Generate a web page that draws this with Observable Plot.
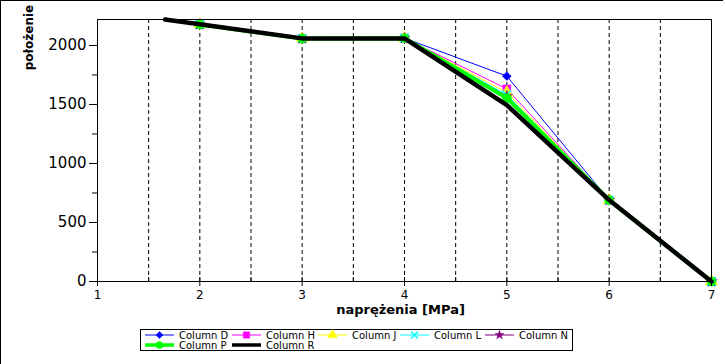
<!DOCTYPE html>
<html><head><meta charset="utf-8">
<script src="https://cdn.jsdelivr.net/npm/d3@7"></script>
<script src="https://cdn.jsdelivr.net/npm/@observablehq/plot@0.6"></script>
<style>html,body{margin:0;padding:0;background:#fff;} svg{display:block;}</style>
</head><body><div id="chart"></div>
<script>
// ---- data ----
const xStress  = [2, 3, 4, 5, 6, 7];
const xStressR = [1.66, 3, 4, 5, 6, 7];
const columnD = [2178, 2058, 2062, 1740, 690, 0];
const columnH = [2178, 2058, 2062, 1632, 690, 0];
const columnJ = [2178, 2058, 2062, 1602, 690, 0];
const columnL = [2178, 2058, 2062, 1582, 690, 0];
const columnN = [2178, 2058, 2062, 1570, 690, 0];
const columnP = [2178, 2058, 2062, 1555, 690, 0];
const columnR = [2220, 2060, 2060, 1495, 690, 0];
const seriesNames = ["Column D", "Column H", "Column J", "Column L", "Column N", "Column P", "Column R"];
const xTicks = [1, 2, 3, 4, 5, 6, 7];
const xGrid = [1.5, 2, 2.5, 3, 3.5, 4, 4.5, 5, 5.5, 6, 6.5];
const xMinorTicks = [1.5, 2.5, 3.5, 4.5, 5.5, 6.5];
const yTicks = [0, 500, 1000, 1500, 2000];
const yMinorTicks = [250, 750, 1250, 1750];
const xLabel = "naprężenia [MPa]";
const yLabel = "położenie";

// ---- styles ----
const styles = [
  {color: "#0000ff", symbol: "diamond2", r: 4,   width: 1},
  {color: "#ff00ff", symbol: "square",   r: 4.5, width: 1},
  {color: "#ffff00", symbol: "triangle", r: 4.5, width: 1},
  {color: "#00ffff", symbol: "times",    r: 4,   width: 1},
  {color: "#800080", symbol: "star",     r: 3.5, width: 1},
  {color: "#00ff00", symbol: "circle",   r: 4.5, width: 4},
  {color: "#000000", symbol: null,       r: 0,   width: 4.5}
];
const xsList = [xStress, xStress, xStress, xStress, xStress, xStress, xStressR];
const ysList = [columnD, columnH, columnJ, columnL, columnN, columnP, columnR];
const series = seriesNames.map((name, i) => ({
  name, rows: xsList[i].map((x, j) => ({x, y: ysList[i][j]})), ...styles[i]
}));

const FONT = "DejaVu Sans";
const W = 725, H = 364;
const mL = 97, mR = 14, mT = 19, mB = 83;
const innerH = H - mT - mB;

const seriesMarks = series.flatMap(s => {
  const m = [Plot.line(s.rows, {x: "x", y: "y", stroke: s.color, strokeWidth: s.width, strokeLinejoin: "round"})];
  if (s.symbol) {
    const stroked = s.symbol === "times";
    m.push(Plot.dot(s.rows, {x: "x", y: "y", symbol: s.symbol, r: s.r,
      fill: stroked ? "none" : s.color, stroke: s.color, strokeWidth: stroked ? 1.6 : 0.5}));
  }
  return m;
});

const chart = Plot.plot({
  width: W, height: H,
  marginLeft: mL, marginRight: mR, marginTop: mT, marginBottom: mB,
  style: {fontFamily: FONT, background: "white", color: "black"},
  x: {domain: [1, 7]},
  y: {domain: [0, 2220]},
  marks: [
    Plot.ruleX(xGrid, {stroke: "black", strokeDasharray: "4,3", strokeWidth: 1}),
    ...seriesMarks,
    Plot.frame({stroke: "black"}),
    Plot.axisY({ticks: yTicks, tickSize: 8, tickPadding: 3, fontSize: 15, label: null, tickFormat: d => String(d)}),
    Plot.axisY({ticks: yMinorTicks, tickSize: 5, text: null, label: null}),
    Plot.axisX({ticks: xTicks, tickSize: 5, tickPadding: 4, fontSize: 12, label: null, tickFormat: d => String(d)}),
    Plot.ruleX(xTicks, {insetTop: innerH - 4, stroke: "black"}),
    Plot.ruleX(xMinorTicks, {insetTop: innerH - 4, stroke: "black"}),
    Plot.text([xLabel], {text: d => d, frameAnchor: "bottom", lineAnchor: "bottom", dy: 32, dx: -4,
      fontWeight: "bold", fontSize: 13, fontFamily: FONT, fill: "black"}),
    Plot.text([yLabel], {text: d => d, frameAnchor: "top-left", rotate: -90, textAnchor: "middle",
      lineAnchor: "bottom", dx: 32 - mL, dy: 37 - mT, fontWeight: "bold", fontSize: 12, fontFamily: FONT, fill: "black"})
  ]
});

document.getElementById("chart").appendChild(chart);

// image border (top + left)
const svg = d3.select(chart);
svg.append("line").attr("x1", 0).attr("x2", 723).attr("y1", 0.5).attr("y2", 0.5).attr("stroke", "black");
svg.append("line").attr("x1", 0.5).attr("x2", 0.5).attr("y1", 0).attr("y2", H).attr("stroke", "black");

// legend
const lg = svg.append("g").attr("font-family", FONT).attr("font-size", 10).attr("text-anchor", "start");
lg.append("rect").attr("x", 140.5).attr("y", 329.5).attr("width", 432).attr("height", 21)
  .attr("fill", "white").attr("stroke", "black");
const legendPos = [
  [145, 335], [232, 335], [318, 335], [400, 335], [485, 335],
  [145, 345], [232, 345]
];
const symMap = {diamond2: d3.symbolDiamond2, square: d3.symbolSquare, triangle: d3.symbolTriangle,
  times: d3.symbolTimes, star: d3.symbolStar, circle: d3.symbolCircle};
series.forEach((s, i) => {
  const [x0, y0] = legendPos[i];
  const len = 29;
  lg.append("line").attr("x1", x0).attr("x2", x0 + len).attr("y1", y0).attr("y2", y0)
    .attr("stroke", s.color).attr("stroke-width", s.width > 1 ? 3.5 : 1);
  if (s.symbol) {
    const stroked = s.symbol === "times";
    const rr = s.r * 0.8;
    lg.append("path").attr("d", d3.symbol(symMap[s.symbol], Math.PI * rr * rr)())
      .attr("transform", `translate(${x0 + len / 2},${y0})`)
      .attr("fill", stroked ? "none" : s.color).attr("stroke", s.color)
      .attr("stroke-width", stroked ? 1.5 : 0.5);
  }
  lg.append("text").attr("x", x0 + len + 5).attr("y", y0 + 3.6).attr("fill", "black")
    .attr("text-anchor", "start").text(s.name);
});
</script>
</body></html>
